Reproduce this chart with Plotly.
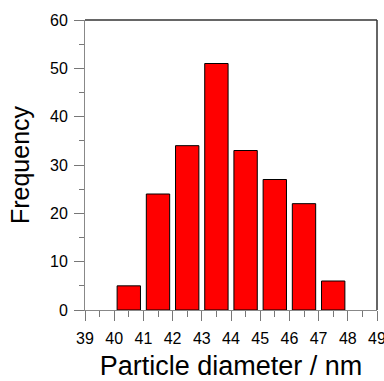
import plotly.graph_objects as go

bin_centers = [40.5, 41.5, 42.5, 43.5, 44.5, 45.5, 46.5, 47.5]
frequency = [5, 24, 34, 51, 33, 27, 22, 6]
x_ticks = [39, 40, 41, 42, 43, 44, 45, 46, 47, 48, 49]
y_ticks = [0, 10, 20, 30, 40, 50, 60]

fig = go.Figure()
fig.add_trace(go.Bar(
    x=bin_centers, y=frequency, width=0.8,
    marker=dict(color="#ff0000", line=dict(color="#000000", width=1)),
))

font = "Liberation Sans, Arial, sans-serif"
fig.update_layout(
    width=384, height=381,
    margin=dict(l=85, r=7, t=20, b=71),
    paper_bgcolor="white", plot_bgcolor="white",
    showlegend=False,
    font=dict(family=font, color="black"),
    xaxis=dict(
        range=[39, 49], tickvals=x_ticks, ticktext=[str(v) for v in x_ticks],
        ticks="outside", ticklen=10, tickcolor="#777", tickwidth=1,
        showline=True, linecolor="#888", linewidth=1, showgrid=False, zeroline=False,
        tickfont=dict(size=16), automargin=False, ticklabelstandoff=4,
        ticklabeloverflow="allow",
        minor=dict(dtick=0.5, ticks="outside", ticklen=6, tickcolor="#777"),
        title=dict(text="Particle diameter / nm", font=dict(size=27), standoff=16),
    ),
    yaxis=dict(
        range=[0, 60], tickvals=y_ticks,
        ticks="outside", ticklen=10, tickcolor="#777", tickwidth=1,
        showline=True, linecolor="#888", linewidth=1, showgrid=False, zeroline=False,
        tickfont=dict(size=16), automargin=False, ticklabelstandoff=3,
        ticklabeloverflow="allow",
        minor=dict(dtick=5, ticks="outside", ticklen=5, tickcolor="#777"),
        title=dict(text="Frequency", font=dict(size=25), standoff=13),
    ),
)
fig.add_shape(type="line", xref="paper", yref="paper", x0=0, x1=1, y0=1, y1=1,
              line=dict(color="#333", width=1.5))
fig.add_shape(type="line", xref="paper", yref="paper", x0=1, x1=1, y0=0, y1=1,
              line=dict(color="#333", width=1.5))
fig.write_html("out.html",
               config={"displayModeBar": False},
               post_script="document.body.style.margin='0';document.body.style.overflow='hidden';")
